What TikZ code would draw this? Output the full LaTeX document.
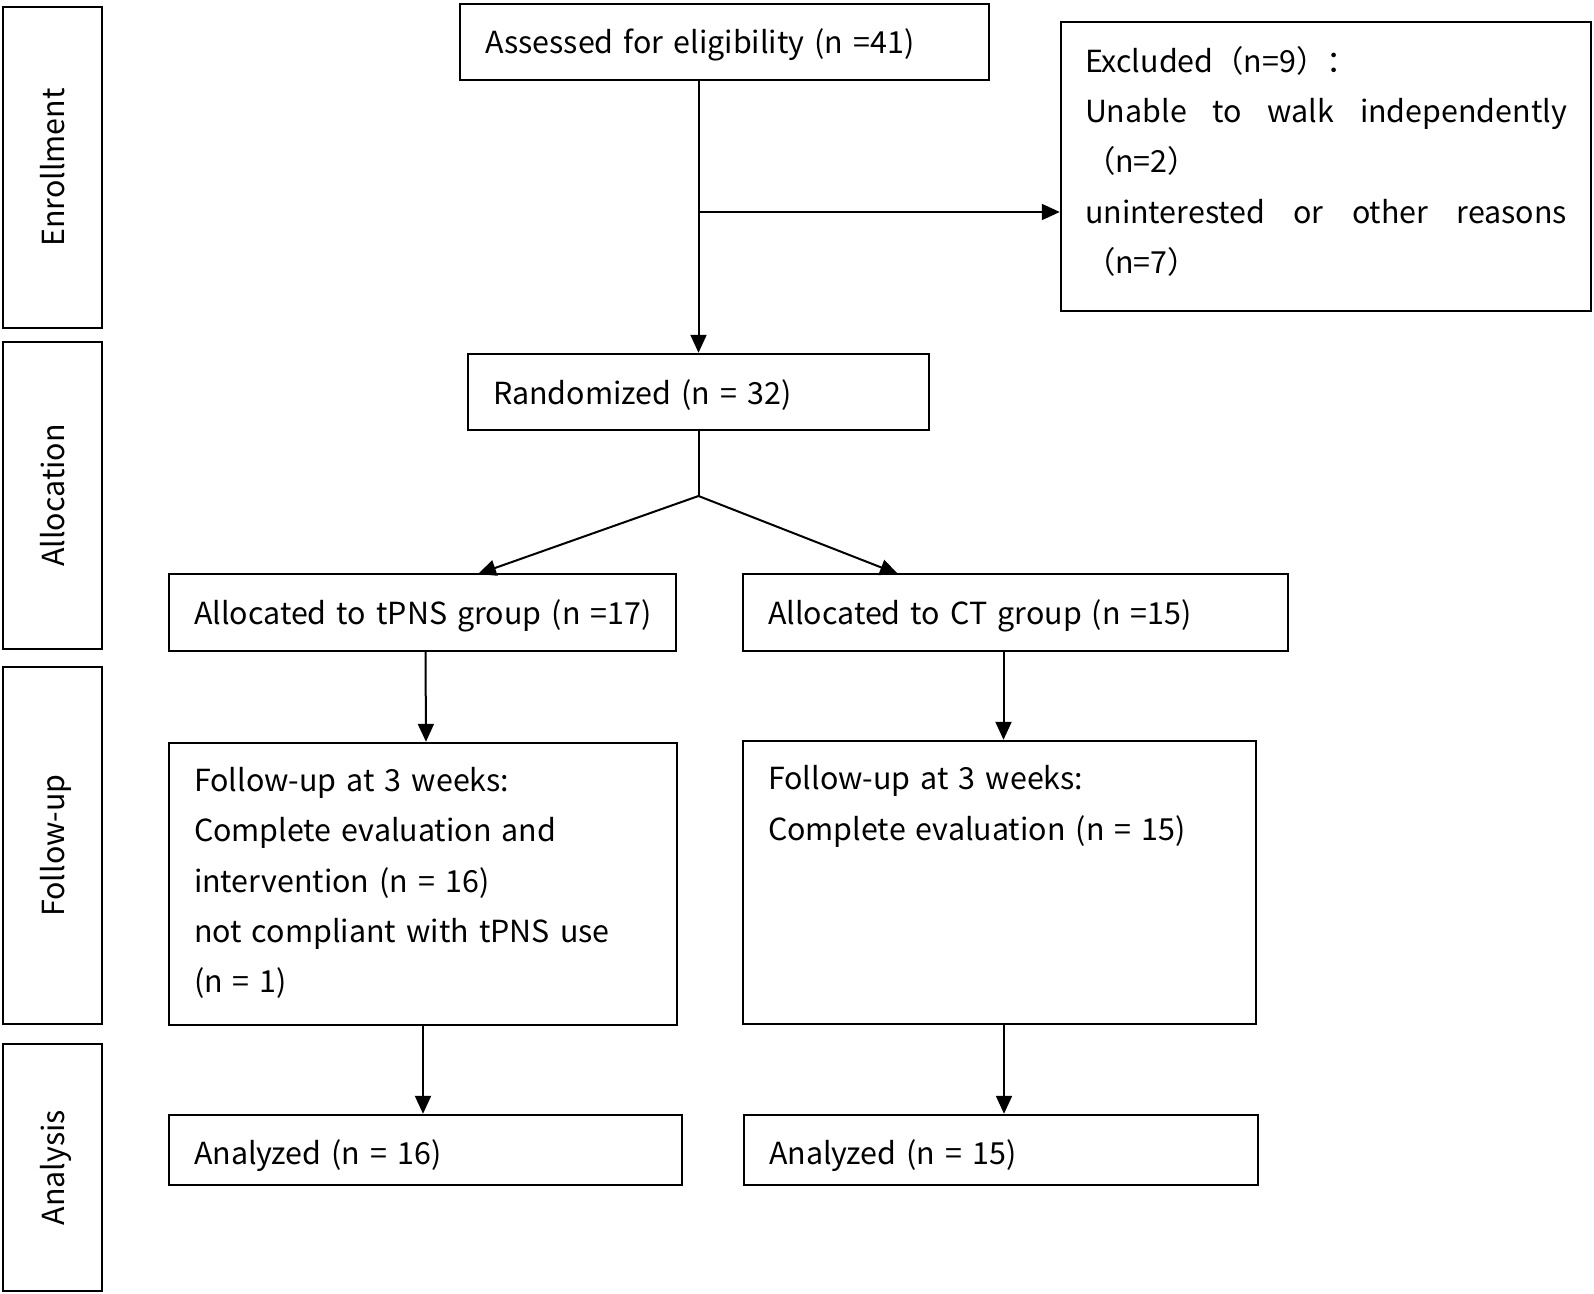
\documentclass[tikz,border=0pt]{standalone}
\usepackage{fontspec}
\setmainfont{Noto Sans CJK SC}
\usetikzlibrary{arrows.meta}

\begin{document}
\begin{tikzpicture}[
		x=0.5pt, y=-0.5pt,
		line width=1pt,
		font=\fontsize{15.2}{25.2}\selectfont,
		box/.style={draw,line width=1.2pt,inner xsep=12.5pt,inner ysep=0pt,align=left},
		one/.style={text height=15pt,text depth=3pt},
		stage/.style={draw,line width=1.2pt,rotate=90,minimum height=49.5pt,inner sep=0pt,one},
		arr/.style={-{Triangle[length=9pt,width=8pt]}}]
		\useasboundingbox (0,0) rectangle (1594,1294);

		% stages on the left
		\node[stage,minimum width=160.5pt] (enroll) at (52.5,167.5) {Enrollment};
		\node[stage,minimum width=153.5pt] (alloc) at (52.5,495.5) {Allocation};
		\node[stage,minimum width=178.5pt] (follow) at (52.5,845.5) {Follow-up};
		\node[stage,minimum width=123.5pt] (anal) at (52.5,1167.5) {Analysis};

		\node[box,one,text width=239.5pt,minimum height=38pt] (assess) at (724.5,42) {Assessed for eligibility (n =41)};
		\node[box,text width=241pt,inner xsep=12pt,minimum height=144.5pt] (excl) at (1326,166.5)
			{\parbox[c][120.5pt][t]{241pt}{Excluded（n=9）：\\
				\makebox[\linewidth][l]{Unable\hfill to\hfill walk\hfill independently}\\ （n=2）\\
				\makebox[\linewidth][l]{uninterested\hfill or\hfill other\hfill reasons}\\ （n=7）}};
		\node[box,one,text width=205.5pt,minimum height=38pt] (rand) at (698.5,392) {Randomized (n = 32)};

		\node[box,one,text width=228.5pt,minimum height=38.5pt] (allocA) at (422.5,612.5) {\mbox{Allocated to tPNS group (n =17)}};
		\node[box,one,text width=247.5pt,minimum height=38.5pt] (allocB) at (1015.5,612.5) {Allocated to CT group (n =15)};

		\node[box,text width=229pt,minimum height=141pt] (fupA) at (423,884)
			{\parbox[c][117pt][t]{229pt}{Follow-up at 3 weeks:\\ Complete evaluation and\\ intervention (n = 16)\\ not compliant with tPNS use\\ (n = 1)}};
		\node[box,text width=231.5pt,minimum height=141.5pt] (fupB) at (999.5,882.5)
			{\parbox[c][117pt][t]{231.5pt}{Follow-up at 3 weeks:\\ Complete evaluation (n = 15)}};

		\node[box,one,text height=17.5pt,text width=231.5pt,minimum height=35pt] (anaA) at (425.5,1150) {Analyzed (n = 16)};
		\node[box,one,text height=17.5pt,text width=232pt,minimum height=35pt] (anaB) at (1001,1150) {Analyzed (n = 15)};

		\coordinate (brk) at (698.5,212);
		\coordinate (split) at (698.5,496);
		\coordinate (tipA) at (478,574);
		\coordinate (tipB) at (898,574);

		\draw[arr] (rand.north |- assess.south) -- (rand.north);
		\draw[arr] (brk) -- (brk -| excl.west);
		\draw (rand.south) -- (split);
		\draw[arr] (split) -- (tipA);
		\draw[arr] (split) -- (tipB);
		\draw[arr] ([xshift=1.5pt]allocA.south) -- ([xshift=1.5pt]fupA.north);
		\draw[arr] ([xshift=2pt]fupB.north |- allocB.south) -- ([xshift=2pt]fupB.north);
		\draw[arr] (fupA.south) -- (fupA.south |- anaA.north);
		\draw[arr] ([xshift=1.5pt]anaB.north |- fupB.south) -- ([xshift=1.5pt]anaB.north);
\end{tikzpicture}
\end{document}
